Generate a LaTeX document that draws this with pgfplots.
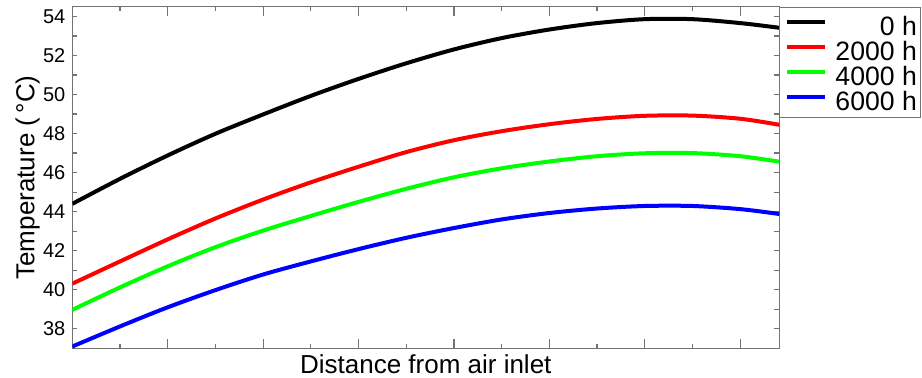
\documentclass[border=0pt]{standalone}
\usepackage{fontspec}
\setmainfont{Liberation Sans}
\usepackage{pgfplots}
\pgfplotsset{compat=1.18}
\begin{document}
\begin{tikzpicture}
\begin{axis}[
  scale only axis,
  width=353.5pt, height=170.8pt,
  xmin=0, xmax=7.41, ymin=37, ymax=54.5,
  xtick={1,2,...,7}, minor xtick={0.5,1.5,...,6.5},
  xticklabels={},
  ytick={38,39,...,54},
  yticklabels={38,,40,,42,,44,,46,,48,,50,,52,,54},
  tick align=inside,
  major tick length=4.5pt, minor tick length=2pt,
  y tick style={/pgfplots/major tick length=2.6pt},
  axis line style={black!55, line width=0.6pt},
  every tick/.style={black!55, line width=0.6pt},
  /pgf/number format/assume math mode=true,
  yticklabel style={font=\fontsize{10}{12}\selectfont, inner sep=0pt, xshift=-3.3pt},
  xlabel={Distance from air inlet},
  ylabel={Temperature (\,°C)},
  xlabel style={font=\fontsize{13}{15}\selectfont, at={(axis description cs:0.5,0)}, anchor=base, yshift=-12.4pt},
  ylabel style={font=\fontsize{13}{15}\selectfont, at={(axis description cs:-0.0537,0.5)}, anchor=base},
  legend cell align=right,
  legend style={at={(1,1)}, anchor=north west, draw=black!55, line width=0.6pt,
    font=\fontsize{13.3}{15}\selectfont, inner xsep=2pt, inner ysep=2.5pt,
    row sep=0pt, column sep=0pt,
    nodes={inner sep=0pt, text height=11.5pt, text depth=1pt}},
  legend image code/.code={\path[draw=none,fill=none] (0pt,0pt) rectangle (25.8pt,0pt);\draw[#1, line width=2pt] (1.8pt,1.2pt) -- (20.8pt,1.2pt);},
  every axis plot/.append style={line width=2pt, smooth, no markers},
]
\addplot[black] coordinates {
(0,44.40) (0.5,45.68) (1,46.88) (1.5,47.99) (2,48.98) (2.5,49.93) (3,50.80) (3.5,51.60) (4,52.31) (4.5,52.89) (5,53.33) (5.5,53.66) (6,53.86) (6.5,53.86) (7,53.66) (7.41,53.42)};
\addlegendentry{0 h}
\addplot[red] coordinates {
(0,40.31) (0.5,41.45) (1,42.58) (1.5,43.65) (2,44.62) (2.5,45.50) (3,46.30) (3.5,47.05) (4,47.66) (4.5,48.12) (5,48.48) (5.5,48.75) (6,48.91) (6.5,48.92) (7,48.76) (7.41,48.45)};
\addlegendentry{2000 h}
\addplot[green] coordinates {
(0,38.97) (0.5,40.12) (1,41.20) (1.5,42.18) (2,43.03) (2.5,43.78) (3,44.50) (3.5,45.17) (4,45.76) (4.5,46.22) (5,46.57) (5.5,46.84) (6,46.99) (6.5,47.00) (7,46.84) (7.41,46.56)};
\addlegendentry{4000 h}
\addplot[blue] coordinates {
(0,37.09) (0.5,38.12) (1,39.10) (1.5,39.98) (2,40.78) (2.5,41.45) (3,42.08) (3.5,42.66) (4,43.16) (4.5,43.60) (5,43.93) (5.5,44.16) (6,44.29) (6.5,44.29) (7,44.13) (7.41,43.88)};
\addlegendentry{6000 h}
\end{axis}
\pgfresetboundingbox
\path (-36.15pt,-14.85pt) rectangle (424.85pt,174.15pt);
\end{tikzpicture}
\end{document}
